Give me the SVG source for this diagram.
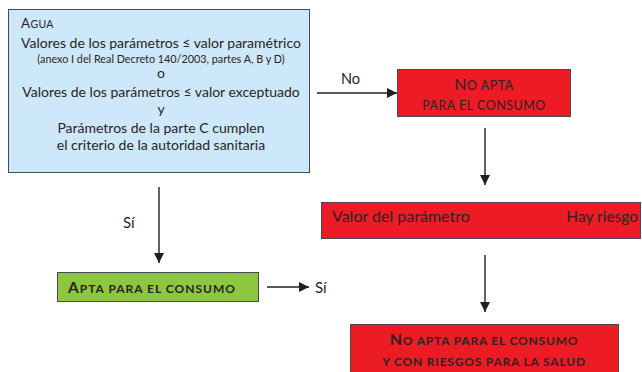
<svg xmlns="http://www.w3.org/2000/svg" width="642" height="372" viewBox="0 0 642 372">
<defs>
<style>
text{font-family:Lato,"Open Sans","DejaVu Sans",sans-serif;fill:#2b2325}
.box{stroke:#4a4a4a;stroke-width:1}
.blue{fill:#cde8fa}
.red{fill:#ed1c24}
.green{fill:#8dc63f}
.line{stroke:#231f20;stroke-width:1.4;fill:none;marker-end:url(#ah)}
.t14{font-size:14px}
.c{text-anchor:middle}
.b{font-weight:bold}
</style>
<marker id="ah" viewBox="0 0 10 10" refX="10" refY="5" markerWidth="10" markerHeight="10" markerUnits="userSpaceOnUse" orient="auto">
<path d="M0,0 L10,5 L0,10 z" fill="#231f20"/>
</marker>
</defs>
<rect width="642" height="372" fill="#ffffff"/>
<g id="agua">
<rect class="box blue" x="8.5" y="9.5" width="301" height="163"/>
<text x="21" y="28" letter-spacing="0.3"><tspan font-size="13.5">A</tspan><tspan font-size="10.5">GUA</tspan></text>
<text class="t14 c" x="161" y="48">Valores de los parámetros ≤ valor paramétrico</text>
<text class="c" x="161" y="63" font-size="10.8">(anexo I del Real Decreto 140/2003, partes A, B y D)</text>
<text class="t14 c" x="161" y="78">o</text>
<text class="t14 c" x="161" y="97">Valores de los parámetros ≤ valor exceptuado</text>
<text class="t14 c" x="161" y="114">y</text>
<text class="t14 c" x="161" y="133">Parámetros de la parte C cumplen</text>
<text class="t14 c" x="161" y="150">el criterio de la autoridad sanitaria</text>
</g>
<g id="no-apta">
<rect class="box red" x="397.5" y="69.5" width="173" height="47"/>
<text class="c" x="484" y="90" letter-spacing="0.5"><tspan font-size="16">N</tspan><tspan font-size="12.5">O APTA</tspan></text>
<text class="c" x="484" y="110" font-size="12.5" letter-spacing="0.5">PARA EL CONSUMO</text>
</g>
<g id="valor">
<rect class="box red" x="321.5" y="202.5" width="319" height="36"/>
<text x="332" y="222" font-size="16">Valor del parámetro</text>
<text x="638" y="222" font-size="15.5" text-anchor="end">Hay riesgo</text>
</g>
<g id="apta">
<rect class="box green" x="57.5" y="272.5" width="201" height="29"/>
<text class="b" x="68" y="293" letter-spacing="1"><tspan font-size="15.5">A</tspan><tspan font-size="12">PTA PARA EL CONSUMO</tspan></text>
</g>
<g id="riesgo">
<rect class="box red" x="350.5" y="324.5" width="268" height="60"/>
<text class="c b" x="484" y="345" letter-spacing="0.8"><tspan font-size="16">N</tspan><tspan font-size="12">O APTA PARA EL CONSUMO</tspan></text>
<text class="c b" x="484" y="366" font-size="12" letter-spacing="0.8">Y CON RIESGOS PARA LA SALUD</text>
</g>
<g id="connectors">
<line class="line" x1="317" y1="93" x2="397" y2="93"/>
<line class="line" x1="485" y1="128" x2="485" y2="185"/>
<line class="line" x1="485" y1="255" x2="485" y2="312"/>
<line class="line" x1="159" y1="187" x2="159" y2="263"/>
<line class="line" x1="267" y1="287" x2="309" y2="287"/>
<text x="341" y="84" font-size="14.5">No</text>
<text x="123" y="228" font-size="15">Sí</text>
<text x="315" y="293" font-size="15">Sí</text>
</g>
</svg>
